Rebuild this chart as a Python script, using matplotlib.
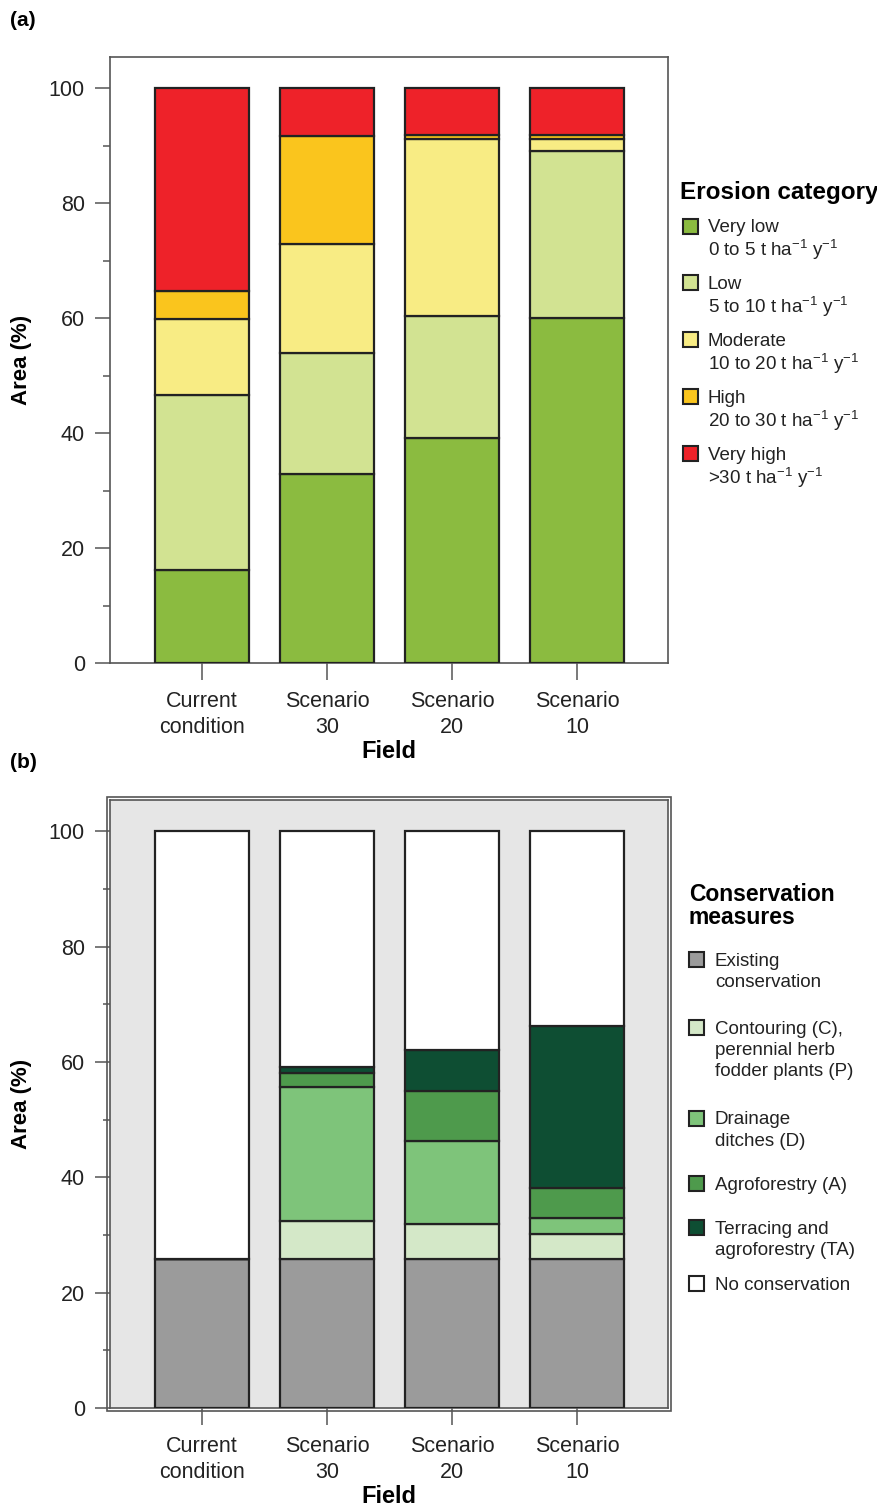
import matplotlib
matplotlib.use('Agg')
import matplotlib.pyplot as plt
from matplotlib.patches import Rectangle
import numpy as np

plt.rcParams['font.family'] = ['Liberation Sans', 'DejaVu Sans']
plt.rcParams['mathtext.fontset'] = 'custom'
plt.rcParams['mathtext.rm'] = 'Liberation Sans'
plt.rcParams['mathtext.default'] = 'regular'

fields = ['Current\ncondition', 'Scenario\n30', 'Scenario\n20', 'Scenario\n10']

# (a) erosion categories, % area
very_low = [16.1, 32.8, 39.2, 60.0]
low = [30.5, 21.1, 21.2, 29.0]
moderate = [13.3, 18.9, 30.8, 2.2]
high = [4.8, 18.8, 0.6, 0.6]
very_high = [35.3, 8.4, 8.2, 8.2]
erosion_names = ['Very low', 'Low', 'Moderate', 'High', 'Very high']
erosion_ranges = ['0 to 5 t ha$^{-1}$ y$^{-1}$', '5 to 10 t ha$^{-1}$ y$^{-1}$',
                  '10 to 20 t ha$^{-1}$ y$^{-1}$', '20 to 30 t ha$^{-1}$ y$^{-1}$',
                  '>30 t ha$^{-1}$ y$^{-1}$']
erosion_colors = ['#8bbb40', '#d2e392', '#f8ec84', '#fac51d', '#ee2229']

# (b) conservation measures, % area
existing = [25.8, 25.8, 25.8, 25.8]
contouring = [0.0, 6.7, 6.1, 4.4]
drainage = [0.0, 23.2, 14.3, 2.7]
agroforestry = [0.0, 2.4, 8.7, 5.2]
terracing = [0.0, 1.0, 7.2, 28.2]
no_conservation = [74.2, 40.9, 37.9, 33.7]
cons_names = [['Existing', 'conservation'],
              ['Contouring (C),', 'perennial herb', 'fodder plants (P)'],
              ['Drainage', 'ditches (D)'],
              ['Agroforestry (A)'],
              ['Terracing and', 'agroforestry (TA)'],
              ['No conservation']]
cons_colors = ['#9b9b9b', '#d4e8c8', '#7ec47a', '#4e9a4c', '#0e4e33', '#ffffff']

W, H = 878, 1512
fig = plt.figure(figsize=(W / 100, H / 100), dpi=100)

def fx(x):
    return x / W

def fy(y):
    return 1 - y / H

def stacked(ax, series, colors):
    x = np.arange(len(fields))
    bottom = np.zeros(len(fields))
    for vals, c in zip(series, colors):
        ax.bar(x, vals, width=0.75, bottom=bottom, color=c, edgecolor='#222222',
               linewidth=1.6, zorder=3)
        bottom += np.array(vals)
    ax.set_xlim(-0.736, 3.728)
    ax.set_ylim(0, 105.4)
    ax.set_xticks(x)
    ax.set_xticklabels(fields, fontsize=15.5, color='#222222', linespacing=1.3)
    ax.set_yticks(range(0, 101, 20))
    ax.set_yticks(range(10, 100, 20), minor=True)
    ax.tick_params(axis='y', which='major', length=11, width=1.1, color='#555555',
                   labelsize=15.5, labelcolor='#222222', pad=7)
    ax.tick_params(axis='y', which='minor', length=5, width=1.1, color='#555555')
    ax.tick_params(axis='x', length=12, width=1.1, color='#555555', pad=8)
    for s in ax.spines.values():
        s.set_color('#555555')
        s.set_linewidth(1.2)
    ax.set_xlabel('Field', fontsize=17, fontweight='bold', labelpad=2)
    ax.set_ylabel('Area (%)', fontsize=16, fontweight='bold', labelpad=12)

ax_a = fig.add_axes([fx(110), fy(663), 558 / W, 606 / H])
stacked(ax_a, [very_low, low, moderate, high, very_high], erosion_colors)

ax_b = fig.add_axes([fx(110), fy(1408), 558 / W, 608 / H])
ax_b.set_facecolor('#e6e6e6')
stacked(ax_b, [existing, contouring, drainage, agroforestry, terracing, no_conservation],
        cons_colors)
# double frame around panel b
fig.patches.append(Rectangle((fx(107), fy(1411)), 564 / W, 614 / H, transform=fig.transFigure,
                             fill=False, edgecolor='#555555', linewidth=1.2))

fig.text(fx(10), fy(20), '(a)', fontsize=15, fontweight='bold', va='center')
fig.text(fx(10), fy(762), '(b)', fontsize=15, fontweight='bold', va='center')

def legend_entry(xp, yc, color, lines, xt, pitch):
    fig.patches.append(Rectangle((fx(xp), fy(yc + 7.5)), 15 / W, 15 / H,
                                 transform=fig.transFigure, facecolor=color,
                                 edgecolor='#222222', linewidth=1.5))
    for i, line in enumerate(lines):
        fig.text(fx(xt), fy(yc + i * pitch + 6.5), line, fontsize=13.5, color='#222222',
                 va='baseline')

fig.text(fx(680), fy(193), 'Erosion category', fontsize=17.5, fontweight='bold', va='center')
for i, (name, rng, c) in enumerate(zip(erosion_names, erosion_ranges, erosion_colors)):
    legend_entry(683, 226 + i * 56.8, c, [name, rng], 708, 24)

fig.text(fx(689), fy(906), 'Conservation\nmeasures', fontsize=16.5, fontweight='bold',
         va='center', linespacing=0.95)
cons_y = [959, 1027, 1118, 1183, 1227, 1283]
for yc, lines, c in zip(cons_y, cons_names, cons_colors):
    legend_entry(689, yc, c, lines, 715, 21.5)

fig.savefig('out.png', dpi=100)
